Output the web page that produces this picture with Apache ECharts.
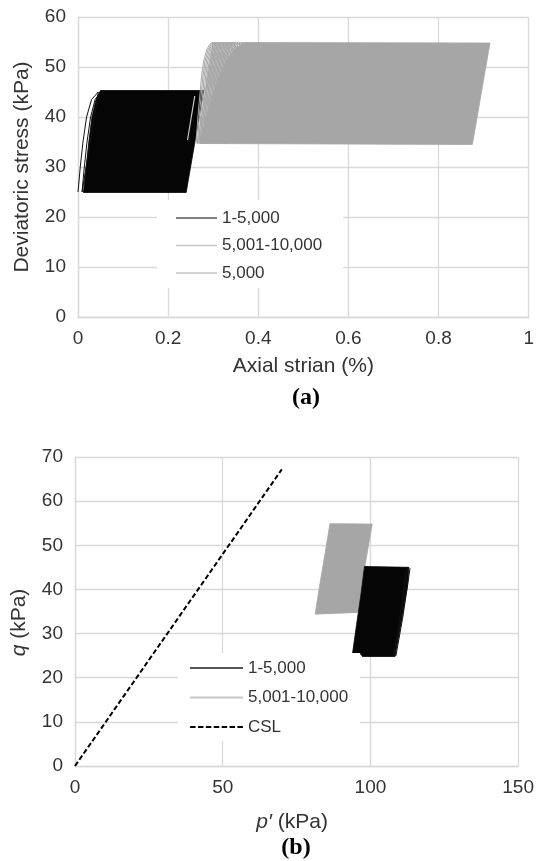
<!DOCTYPE html>
<html>
<head>
<meta charset="utf-8">
<script src="https://cdn.jsdelivr.net/npm/echarts@6/dist/echarts.min.js"></script>
<style>
  html, body { margin: 0; padding: 0; background: #ffffff; }
  #chart { width: 537px; height: 861px; }
</style>
</head>
<body>
<div id="chart"></div>
<script>
// ---------- (a) deviatoric stress vs axial strain ----------
// Dense band of cycles 1-5,000 (outline of the solid black mass) [strain %, q kPa]
const blackMassStrain = [
  [0.012, 24.9], [0.240, 24.9], [0.279, 45.3], [0.050, 45.3],
  [0.040, 43.5], [0.031, 40.0], [0.024, 35.0], [0.018, 30.0]
];
// First cycles, still drawn as separate curves
const blackFirstCycles = [
  [[0, 25], [0.005, 30], [0.011, 35], [0.019, 40], [0.030, 43.5], [0.045, 45]],
  [[0.045, 45], [0.009, 25]],
  [[0.009, 25], [0.014, 30], [0.020, 35], [0.028, 40], [0.038, 43.5], [0.050, 45]]
];
// Dense band of cycles 5,001-10,000
const greyMassStrain = [
  [0.270, 34.7], [0.875, 34.5], [0.914, 54.8], [0.372, 54.9],
  [0.350, 53.8], [0.328, 51.0], [0.305, 46.0], [0.285, 40.0]
];
// One loading/unloading cycle of the second stage: [strain offset, q]
const greyCycleShape = [
  [0, 34.7], [0.004, 40], [0.008, 44], [0.012, 48], [0.017, 51.2],
  [0.024, 53.6], [0.032, 54.7], [0.038, 54.9], [0.003, 34.7]
];
// Starting strain of the early, still separated cycles of the second stage
const greyCycleStarts = [
  0.262, 0.265, 0.268, 0.271, 0.274, 0.277, 0.280, 0.283, 0.286, 0.289,
  0.292, 0.295, 0.298, 0.301, 0.304, 0.307, 0.310, 0.313, 0.317, 0.321,
  0.325, 0.329, 0.333
];
// Cycle 5,000 reloading segment
const cycle5000 = [[0.243, 35.4], [0.259, 44.2]];

// ---------- (b) stress path in p'-q ----------
const blackMassPQ = [
  [93.9, 25.3], [96.8, 25.3], [97.3, 24.8], [108.3, 24.8],
  [110.8, 34.0], [112.6, 41.0], [113.0, 45.0], [98.0, 45.2],
  [96.8, 39.0], [95.3, 32.0]
];
const blackEdgePQ = [
  [[108.6, 24.9], [110.9, 33.5], [113.4, 44.8]],
  [[108.2, 25.0], [110.4, 33.5], [112.7, 45.0]],
  [[107.9, 25.0], [110.0, 34.0], [112.2, 45.1]]
];
const greyMassPQ = [
  [81.3, 34.4], [95.6, 34.8], [97.8, 44.0], [100.6, 54.8],
  [86.3, 54.9], [84.6, 48.0], [82.6, 40.0]
];
const cslP = [0, 70];
const cslQ = [0, 67.2];

// ---------- helpers ----------
const BREAK = ['-', '-'];
function joinPaths(paths) {
  const out = [];
  paths.forEach((p, i) => {
    if (i > 0) out.push(BREAK);
    p.forEach(pt => out.push(pt));
  });
  return out;
}
function shiftedCycles(shape, starts) {
  return starts.map(s => shape.map(([d, q]) => [+(s + d).toFixed(4), q]));
}
function polygonSeries(name, outline, color, xi, yi) {
  return {
    type: 'custom', name: name, xAxisIndex: xi, yAxisIndex: yi,
    silent: true, clip: true,
    data: [outline[0]],
    renderItem: function (params, api) {
      return {
        type: 'polygon',
        shape: { points: outline.map(p => api.coord(p)) },
        style: { fill: color, stroke: color, lineWidth: 0.8 }
      };
    }
  };
}
function lineSeries(name, data, color, width, xi, yi, type) {
  return {
    type: 'line', name: name, xAxisIndex: xi, yAxisIndex: yi,
    data: data, symbol: 'none', silent: true, connectNulls: false,
    lineStyle: { color: color, width: width, type: type || 'solid' },
    itemStyle: { color: color }
  };
}

const FONT = '"Liberation Sans", Arial, sans-serif';
const TXT = '#333333';
const GRID = '#d9d9d9';

function valueAxis(gi, min, max, interval, extra) {
  return Object.assign({
    type: 'value', gridIndex: gi, min: min, max: max, interval: interval,
    axisLine: { show: true, lineStyle: { color: GRID, width: 1.3 } },
    axisTick: { show: false },
    splitLine: { show: true, lineStyle: { color: GRID, width: 1.3 } },
    axisLabel: { color: TXT, fontSize: 19, fontFamily: FONT, margin: 12, lineHeight: 20 },
    nameLocation: 'middle',
    nameTextStyle: { color: TXT, fontSize: 21, fontFamily: FONT, lineHeight: 22 }
  }, extra || {});
}

const legendText = { color: TXT, fontSize: 17, fontFamily: FONT, lineHeight: 18 };
const dashIcon = 'path://M0,0h5.5v2h-5.5z M7.9,0h5.5v2h-5.5z M15.8,0h5.5v2h-5.5z M23.7,0h5.5v2h-5.5z M31.6,0h5.5v2h-5.5z M39.5,0h5.5v2h-5.5z M47.4,0h5.5v2h-5.5z';

const chart = echarts.init(document.getElementById('chart'), null, { renderer: 'canvas' });
chart.setOption({
  animation: false,
  backgroundColor: '#ffffff',
  grid: [
    { left: 78, right: 5, top: 17, height: 300 },
    { left: 73, right: 15, top: 457, height: 309 }
  ],
  xAxis: [
    valueAxis(0, 0, 1, 0.2, { name: 'Axial strian (%)', nameGap: 38 }),
    valueAxis(1, 0, 150, 50, {
      name: '{i|p′} (kPa)', nameGap: 45,
      nameTextStyle: {
        color: TXT, fontSize: 21, fontFamily: FONT, lineHeight: 22, padding: [0, 9, 0, 0],
        rich: { i: { fontStyle: 'italic', color: TXT, fontSize: 21, fontFamily: FONT } }
      }
    })
  ],
  yAxis: [
    valueAxis(0, 0, 60, 10, { name: 'Deviatoric stress (kPa)', nameGap: 45 }),
    valueAxis(1, 0, 70, 10, {
      name: '{i|q} (kPa)', nameGap: 45,
      nameTextStyle: {
        color: TXT, fontSize: 21, fontFamily: FONT, lineHeight: 22, padding: [0, 22, 0, 0],
        rich: { i: { fontStyle: 'italic', color: TXT, fontSize: 21, fontFamily: FONT } }
      }
    })
  ],
  legend: [
    {
      orient: 'vertical', left: 157, top: 200,
      padding: [9, 21, 6, 19], itemGap: 9.5,
      itemWidth: 41, itemHeight: 1.5,
      backgroundColor: '#ffffff',
      selectedMode: false,
      textStyle: legendText,
      data: [
        { name: '1-5,000', icon: 'rect', itemStyle: { color: '#555555' } },
        { name: '5,001-10,000', icon: 'rect', itemStyle: { color: '#c4c4c4' } },
        { name: '5,000', icon: 'rect', itemStyle: { color: '#c4c4c4' } }
      ]
    },
    {
      orient: 'vertical', left: 178, top: 653,
      padding: [6, 12, 5, 12], itemGap: 11.5,
      itemWidth: 53, itemHeight: 2,
      backgroundColor: '#ffffff',
      selectedMode: false,
      textStyle: legendText,
      data: [
        { name: '1-5,000', icon: 'rect', itemStyle: { color: '#555555' } },
        { name: '5,001-10,000', icon: 'rect', itemStyle: { color: '#c8c8c8' } },
        { name: 'CSL', icon: dashIcon, itemStyle: { color: '#000000' } }
      ]
    }
  ],
  series: [
    // (a)
    lineSeries('5,001-10,000', joinPaths(shiftedCycles(greyCycleShape, greyCycleStarts)), '#a6a6a6', 1, 0, 0),
    polygonSeries('5,001-10,000', greyMassStrain, '#a6a6a6', 0, 0),
    polygonSeries('1-5,000', blackMassStrain, '#050505', 0, 0),
    lineSeries('1-5,000', joinPaths(blackFirstCycles), '#111111', 1, 0, 0),
    lineSeries('5,000', cycle5000, '#c8c8c8', 1.2, 0, 0),
    // (b)
    polygonSeries('5,001-10,000', greyMassPQ, '#a6a6a6', 1, 1),
    polygonSeries('1-5,000', blackMassPQ, '#050505', 1, 1),
    lineSeries('1-5,000', joinPaths(blackEdgePQ), '#111111', 1, 1, 1),
    lineSeries('CSL', cslP.map((p, i) => [p, cslQ[i]]), '#000000', 2, 1, 1, [5, 2.6])
  ],
  graphic: [
    {
      type: 'text', x: 306, y: 398,
      style: { text: '(a)', font: 'bold 24px "Liberation Serif", "Times New Roman", serif', fill: '#000', align: 'center', verticalAlign: 'middle' }
    },
    {
      type: 'text', x: 296, y: 848,
      style: { text: '(b)', font: 'bold 24px "Liberation Serif", "Times New Roman", serif', fill: '#000', align: 'center', verticalAlign: 'middle' }
    }
  ]
});
</script>
</body>
</html>
